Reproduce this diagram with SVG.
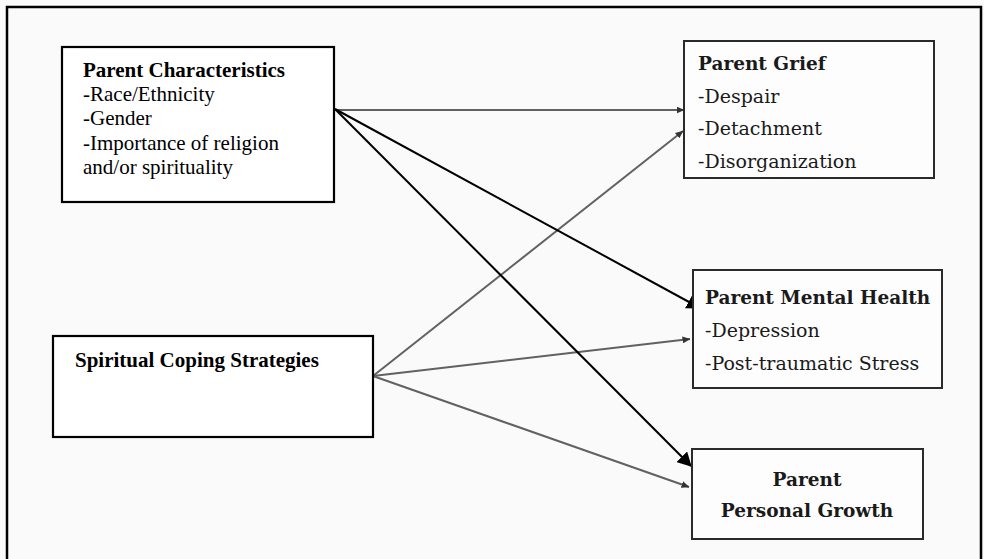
<svg xmlns="http://www.w3.org/2000/svg" width="984" height="559" viewBox="0 0 984 559">
<defs>
<style>
.lbox{fill:#ffffff;stroke:#000;stroke-width:2.2}
.rbox{fill:#fdfdfd;stroke:#2a2a2a;stroke-width:2}
.lt{font-family:"Liberation Serif","Times New Roman",serif;font-size:21px;fill:#000}
.lb{font-weight:bold}
.rt{font-family:"DejaVu Serif","Liberation Serif",serif;font-size:19px;fill:#1a1a1a}
.rb{font-weight:bold;font-size:18.5px}
.blk{stroke:#000;stroke-width:2;fill:none}
.gry{stroke:#616161;stroke-width:2;fill:none}
</style>
<marker id="bigHead" viewBox="0 0 14 15" refX="13" refY="7.5" markerWidth="14" markerHeight="15" markerUnits="userSpaceOnUse" orient="auto">
<path d="M0,0 L14,7.5 L0,15 Z" fill="#000"/>
</marker>
<marker id="smallHead" viewBox="0 0 8 7" refX="7.5" refY="3.5" markerWidth="8" markerHeight="7" markerUnits="userSpaceOnUse" orient="auto">
<path d="M0,0 L8,3.5 L0,7 Z" fill="#333"/>
</marker>
</defs>
<rect x="0" y="0" width="984" height="559" fill="#fafafa"/>
<path d="M7,560 L7,7 L981,7 L981,560" fill="none" stroke="#000" stroke-width="2.5"/>

<g id="connectors">
<line class="gry" x1="335" y1="110" x2="684" y2="110" marker-end="url(#smallHead)"/>
<line class="gry" x1="373" y1="376" x2="683" y2="131" marker-end="url(#smallHead)"/>
<line class="gry" x1="373" y1="376" x2="690" y2="339" marker-end="url(#smallHead)"/>
<line class="gry" x1="373" y1="376" x2="689" y2="487" marker-end="url(#smallHead)"/>
<line class="blk" x1="335" y1="109" x2="700" y2="308" marker-end="url(#bigHead)"/>
<line class="blk" x1="335" y1="109" x2="691" y2="466" marker-end="url(#bigHead)"/>
</g>

<g id="parent-characteristics">
<rect class="lbox" x="62" y="47" width="272" height="155"/>
<text class="lt lb" x="83" y="77">Parent Characteristics</text>
<text class="lt" x="83" y="101">-Race/Ethnicity</text>
<text class="lt" x="83" y="125">-Gender</text>
<text class="lt" x="83" y="150">-Importance of religion</text>
<text class="lt" x="83" y="174">and/or spirituality</text>
</g>

<g id="spiritual-coping">
<rect class="lbox" x="53" y="336" width="320" height="101"/>
<text class="lt lb" x="75" y="367">Spiritual Coping Strategies</text>
</g>

<g id="parent-grief">
<rect class="rbox" x="684" y="41" width="250" height="137"/>
<text class="rt rb" x="698" y="70">Parent Grief</text>
<text class="rt" x="698" y="103">-Despair</text>
<text class="rt" x="698" y="135">-Detachment</text>
<text class="rt" x="698" y="168">-Disorganization</text>
</g>

<g id="parent-mental-health">
<rect class="rbox" x="693" y="270" width="249" height="118"/>
<text class="rt rb" x="705" y="304">Parent Mental Health</text>
<text class="rt" x="705" y="337">-Depression</text>
<text class="rt" x="705" y="370">-Post-traumatic Stress</text>
</g>

<g id="parent-personal-growth">
<rect class="rbox" x="692" y="449" width="231" height="90"/>
<text class="rt rb" x="807" y="486" text-anchor="middle">Parent</text>
<text class="rt rb" x="807" y="517" text-anchor="middle">Personal Growth</text>
</g>
</svg>
